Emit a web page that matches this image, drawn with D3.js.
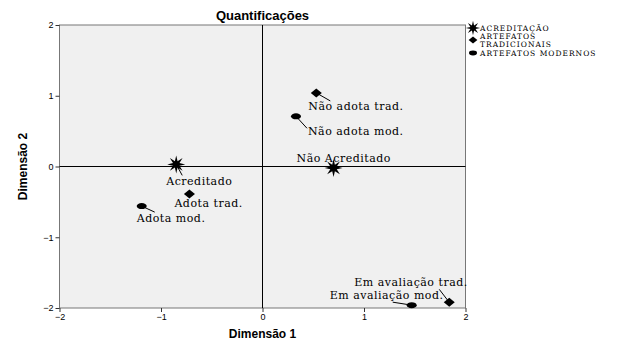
<!DOCTYPE html>
<html>
<head>
<meta charset="utf-8">
<script src="https://cdn.jsdelivr.net/npm/d3@7"></script>
<style>
  body { margin: 0; background: #fff; }
  text { fill: #000; }
</style>
</head>
<body>
<script>
(function(d3) {

  // Category points (dimension 1, dimension 2), one list per variable.
  var acreditacao = [
    { name: "Acreditado", x: -0.85, y: 0.03 },
    { name: "Não Acreditado", x: 0.70, y: -0.02 }
  ];
  var artefatosTrad = [
    { name: "Não adota trad.", x: 0.53, y: 1.04 },
    { name: "Adota trad.", x: -0.72, y: -0.39 },
    { name: "Em avaliação trad.", x: 1.84, y: -1.92 }
  ];
  var artefatosMod = [
    { name: "Não adota mod.", x: 0.33, y: 0.71 },
    { name: "Adota mod.", x: -1.19, y: -0.56 },
    { name: "Em avaliação mod.", x: 1.47, y: -1.96 }
  ];
  var ticks = [-2, -1, 0, 1, 2];
  var legendLabels = [["ACREDITAÇÃO"], ["ARTEFATOS", "TRADICIONAIS"], ["ARTEFATOS MODERNOS"]];

  // Label placement in pixels relative to the point: text start/baseline, leader end.
  var labelOffsets = {
    "Acreditado":         { tx: -10, ty: 21, lx: 6,  ly: 11 },
    "Não Acreditado":     { tx: -37, ty: -6, lx: null },
    "Não adota trad.":    { tx: -8,  ty: 17, lx: 14, ly: 8 },
    "Adota trad.":        { tx: -15, ty: 13, lx: null },
    "Em avaliação trad.": { tx: -95, ty: -16, lx: -10, ly: -13 },
    "Não adota mod.":     { tx: 12,  ty: 19, lx: 11, ly: 12 },
    "Adota mod.":         { tx: -5,  ty: 16, lx: 13, ly: 6 },
    "Em avaliação mod.":  { tx: -82, ty: -6, lx: -19, ly: -3 }
  };

  var width = 626, height = 350;
  var svg = d3.select("body").append("svg")
    .attr("width", width)
    .attr("height", height);

  var x = d3.scaleLinear().domain([-2, 2]).range([59.5, 465.5]);
  var y = d3.scaleLinear().domain([-2, 2]).range([308, 25]);

  // Plot background
  svg.append("rect")
    .attr("x", x(-2)).attr("y", y(2))
    .attr("width", x(2) - x(-2)).attr("height", y(-2) - y(2))
    .attr("fill", "#f0f0f0")
    .attr("stroke", "#777")
    .attr("stroke-width", 1);

  // Reference lines through origin
  svg.append("line")
    .attr("x1", x(0)).attr("x2", x(0)).attr("y1", y(2)).attr("y2", y(-2))
    .attr("stroke", "#000");
  svg.append("line")
    .attr("x1", x(-2)).attr("x2", x(2)).attr("y1", y(0)).attr("y2", y(0))
    .attr("stroke", "#000");

  // Axes
  var xAxis = svg.append("g")
    .attr("transform", "translate(0," + y(-2) + ")")
    .call(d3.axisBottom(x).tickValues(ticks).tickSize(4).tickPadding(2).tickFormat(d3.format("d")));
  var yAxis = svg.append("g")
    .attr("transform", "translate(" + x(-2) + ",0)")
    .call(d3.axisLeft(y).tickValues(ticks).tickSize(4).tickPadding(2).tickFormat(d3.format("d")));
  [xAxis, yAxis].forEach(function(g) {
    g.select(".domain").remove();
    g.selectAll("line").attr("stroke", "#333");
    g.selectAll("text").attr("font-family", "Arial, 'Liberation Sans', sans-serif")
      .attr("font-size", 9).attr("fill", "#222");
  });

  // Titles
  svg.append("text")
    .attr("x", x(0)).attr("y", 20)
    .attr("text-anchor", "middle")
    .attr("font-family", "Arial, 'Liberation Sans', sans-serif")
    .attr("font-weight", "bold").attr("font-size", 13)
    .text("Quantificações");
  svg.append("text")
    .attr("x", x(0)).attr("y", 338)
    .attr("text-anchor", "middle")
    .attr("font-family", "Arial, 'Liberation Sans', sans-serif")
    .attr("font-weight", "bold").attr("font-size", 12)
    .text("Dimensão 1");
  svg.append("text")
    .attr("transform", "translate(27," + y(0) + ") rotate(-90)")
    .attr("text-anchor", "middle")
    .attr("font-family", "Arial, 'Liberation Sans', sans-serif")
    .attr("font-weight", "bold").attr("font-size", 12)
    .text("Dimensão 2");

  // Marker shapes
  function starPath(ro, ri, n) {
    var pts = d3.range(n * 2).map(function(i) {
      var a = i * Math.PI / n - Math.PI / 2;
      var r = i % 2 === 0 ? ro : ri;
      return [r * Math.cos(a), r * Math.sin(a)];
    });
    return "M" + pts.join("L") + "Z";
  }
  var markers = [
    { data: acreditacao, draw: function(g) {
        g.append("path").attr("d", starPath(9, 3.5, 8)).attr("fill", "#000");
      } },
    { data: artefatosTrad, draw: function(g) {
        g.append("path").attr("d", "M-5.5,0L0,-4.5L5.5,0L0,4.5Z").attr("fill", "#000");
      } },
    { data: artefatosMod, draw: function(g) {
        g.append("ellipse").attr("rx", 5).attr("ry", 3).attr("fill", "#000");
      } }
  ];

  var labelFont = "'DejaVu Serif', 'Liberation Serif', serif";

  markers.forEach(function(m) {
    m.data.forEach(function(d) {
      var px = x(d.x), py = y(d.y), o = labelOffsets[d.name];
      if (o.lx !== null) {
        svg.append("line")
          .attr("x1", px).attr("y1", py)
          .attr("x2", px + o.lx).attr("y2", py + o.ly)
          .attr("stroke", "#000").attr("stroke-width", 1);
      }
      var g = svg.append("g").attr("transform", "translate(" + px + "," + py + ")");
      m.draw(g);
      svg.append("text")
        .attr("x", px + o.tx).attr("y", py + o.ty)
        .attr("font-family", labelFont).attr("font-size", 11)
        .attr("letter-spacing", 0.5)
        .text(d.name);
    });
  });

  // Legend
  var legendY = [28, 40, 53];
  var legend = svg.append("g");
  markers.forEach(function(m, i) {
    var g = legend.append("g").attr("transform", "translate(473," + legendY[i] + ") scale(0.8)");
    m.draw(g);
    var lines = legendLabels[i];
    lines.forEach(function(t, j) {
      legend.append("text")
        .attr("x", 480)
        .attr("y", legendY[i] + 3 + (j - (lines.length - 1) / 2) * 8)
        .attr("font-family", labelFont).attr("font-size", 7.5)
        .attr("letter-spacing", 1)
        .text(t);
    });
  });

})(d3);
</script>
</body>
</html>
